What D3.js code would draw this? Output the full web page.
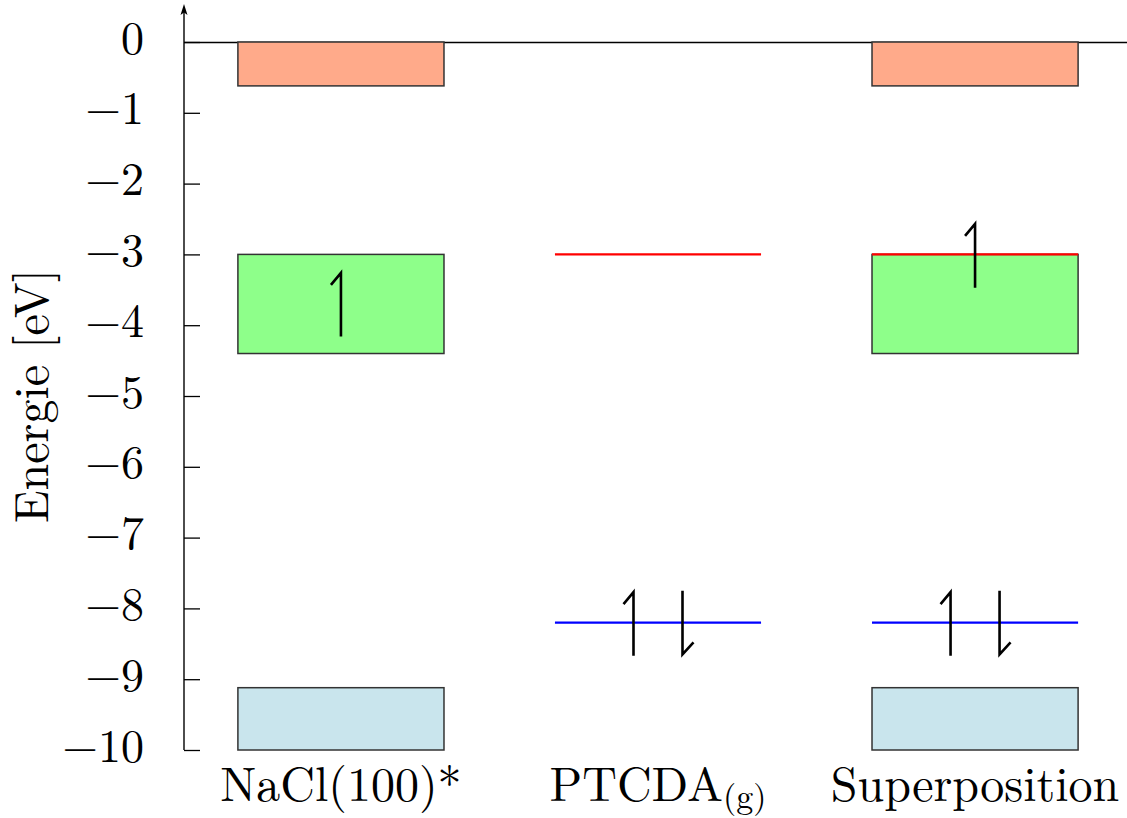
<!DOCTYPE html>
<html>
<head>
<meta charset="utf-8">
<script src="https://cdn.jsdelivr.net/npm/d3@7"></script>
<style>
  html, body { margin: 0; padding: 0; background: #fff; }
  svg { display: block; }
  svg text { font-family: "Latin Modern Roman", "Liberation Serif", serif; fill: #000; }
</style>
</head>
<body>
<svg id="chart" width="1127" height="818"></svg>
<script>
// Columns along the x axis
const categories = ["NaCl(100)*", "PTCDA", "Superposition"];

// Energy axis ticks (eV)
const yTicks = [0, -1, -2, -3, -4, -5, -6, -7, -8, -9, -10];

// Substrate bands, drawn in the NaCl and superposition columns
const bandColumns = ["NaCl(100)*", "Superposition"];
const bandTop    = [0.0, -3.0, -9.12];
const bandBottom = [-0.62, -4.4, -10.0];
const bandKind   = ["upper", "gap", "lower"];

// Molecular levels (PTCDA gas phase), drawn in the PTCDA and superposition columns
const levelColumns = ["PTCDA", "Superposition"];
const levelEnergy  = [-3.0, -8.2];
const levelKind    = ["lumo", "homo"];

// Spin occupation: column, slot (-1 left, 0 centre, 1 right), centre energy, spin
const spinColumn = ["NaCl(100)*", "PTCDA", "PTCDA", "Superposition", "Superposition", "Superposition"];
const spinSlot   = [0, -1, 1, 0, -1, 1];
const spinEnergy = [-3.71, -8.22, -8.2, -3.02, -8.22, -8.2];
const spinDir    = ["up", "up", "down", "up", "up", "down"];
const spinLength = 0.9; // eV

const bandFill  = { upper: "#ffaa8a", gap: "#8eff8a", lower: "#c9e5ed" };
const levelStroke = { lumo: "#ff0000", homo: "#0000ff" };

const W = 1127, H = 818;
const axisX = 184;
const svg = d3.select("#chart");

const y = d3.scaleLinear().domain([-10, 0]).range([750, 42]);
const x = d3.scaleBand().domain(categories).range([axisX, 1132])
  .paddingInner(0.35).paddingOuter(0.17);
const slotGap = 24.5;

// Zero line
svg.append("line")
  .attr("x1", axisX).attr("x2", W)
  .attr("y1", y(0) + 0.5).attr("y2", y(0) + 0.5)
  .attr("stroke", "#000").attr("stroke-width", 1.3);

// Bands
const bandData = [];
bandColumns.forEach(c => bandTop.forEach((t, i) =>
  bandData.push({ col: c, top: t, bottom: bandBottom[i], kind: bandKind[i] })));
svg.append("g").selectAll("rect").data(bandData).join("rect")
  .attr("x", d => x(d.col))
  .attr("width", x.bandwidth())
  .attr("y", d => y(d.top))
  .attr("height", d => y(d.bottom) - y(d.top))
  .attr("fill", d => bandFill[d.kind])
  .attr("stroke", "#333")
  .attr("stroke-width", 1.5);

// Molecular levels
const levelData = [];
levelColumns.forEach(c => levelEnergy.forEach((e, i) =>
  levelData.push({ col: c, e: e, kind: levelKind[i] })));
svg.append("g").selectAll("line").data(levelData).join("line")
  .attr("x1", d => x(d.col))
  .attr("x2", d => x(d.col) + x.bandwidth())
  .attr("y1", d => y(d.e)).attr("y2", d => y(d.e))
  .attr("stroke", d => levelStroke[d.kind])
  .attr("stroke-width", 2.2);

// Spin half-arrows (harpoons)
const spins = spinColumn.map((c, i) => ({ col: c, slot: spinSlot[i], e: spinEnergy[i], dir: spinDir[i] }));
svg.append("g").selectAll("path").data(spins).join("path")
  .attr("d", d => {
    const cx = x(d.col) + x.bandwidth() / 2 + d.slot * slotGap;
    const yt = y(d.e + spinLength / 2), yb = y(d.e - spinLength / 2);
    if (d.dir === "up") {
      return `M${cx},${yb}L${cx},${yt}L${cx - 10},${yt + 12}`;
    }
    return `M${cx},${yt}L${cx},${yb}L${cx + 11},${yb - 12}`;
  })
  .attr("fill", "none")
  .attr("stroke", "#000")
  .attr("stroke-width", 2.6)
  .attr("stroke-linejoin", "miter");

// Energy axis
const yAxis = d3.axisLeft(y)
  .tickValues(yTicks)
  .tickSize(-16)
  .tickSizeOuter(0)
  .tickPadding(40)
  .tickFormat(d3.format("d"));
const gy = svg.append("g").attr("transform", `translate(${axisX},0)`).call(yAxis);
gy.attr("font-family", null).attr("font-size", null);
gy.select(".domain").remove();
gy.selectAll(".tick line").attr("stroke", "#000").attr("stroke-width", 1.3);
gy.selectAll(".tick text")
  .style("font-size", "46px")
  .attr("fill", "#000")
  .attr("dy", "0.24em");

// Axis line with arrow head
svg.append("line")
  .attr("x1", axisX).attr("x2", axisX)
  .attr("y1", y(-10)).attr("y2", 10)
  .attr("stroke", "#000").attr("stroke-width", 1.4);
svg.append("path")
  .attr("d", `M${axisX},4L${axisX + 3.5},15L${axisX},12.5L${axisX - 3.5},15Z`)
  .attr("fill", "#000");

// Column labels
const labels = svg.append("g");
categories.forEach(c => {
  const t = labels.append("text")
    .attr("x", x(c) + x.bandwidth() / 2)
    .attr("y", 801)
    .attr("text-anchor", "middle")
    .style("font-size", "48px");
  if (c === "PTCDA") {
    t.append("tspan").text("PTCDA");
    t.append("tspan").style("font-size", "34px").attr("dy", 7).text("(g)");
  } else {
    t.text(c);
  }
});

// Axis title
svg.append("text")
  .attr("transform", `translate(48,${396}) rotate(-90)`)
  .attr("text-anchor", "middle")
  .style("font-size", "48px")
  .text("Energie [eV]");
</script>
</body>
</html>
